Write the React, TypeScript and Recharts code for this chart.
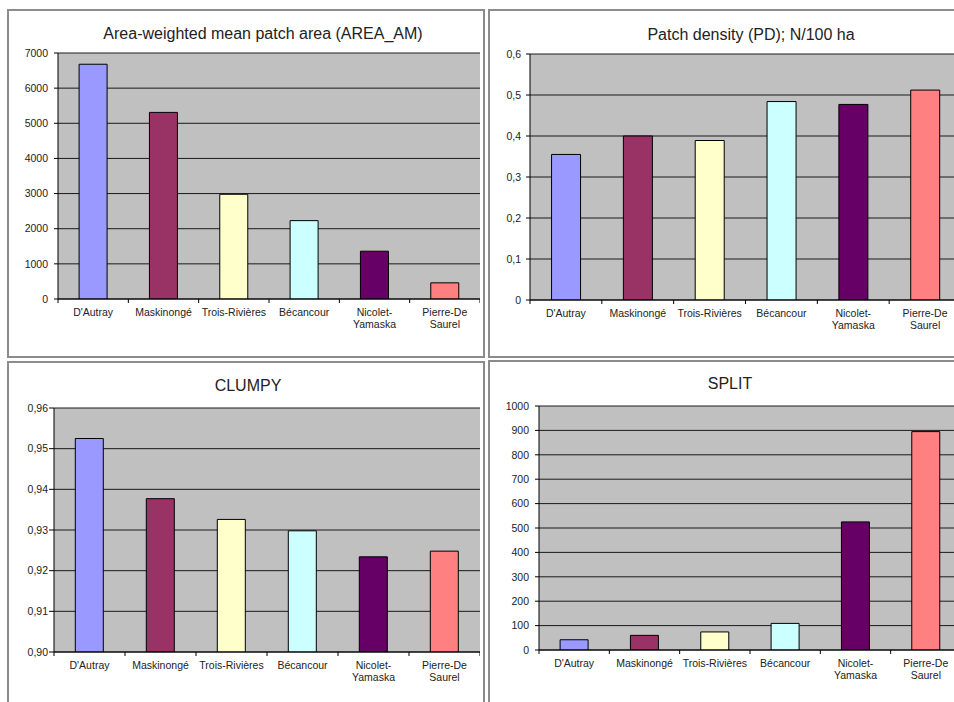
import React from 'react';
import { BarChart, Bar, XAxis, YAxis, CartesianGrid, Cell } from 'recharts';

// districts, in chart order
const categories = ["D'Autray", 'Maskinongé', 'Trois-Rivières', 'Bécancour', 'Nicolet-Yamaska', 'Pierre-De Saurel'];
const categoryLines = [["D'Autray"], ['Maskinongé'], ['Trois-Rivières'], ['Bécancour'], ['Nicolet-', 'Yamaska'], ['Pierre-De', 'Saurel']];
const barColors = ['#9999FF', '#993366', '#FFFFCC', '#CCFFFF', '#660066', '#FF8080'];

// metric values
const areaAm = [6680, 5310, 2980, 2230, 1360, 460];
const patchDensity = [0.355, 0.4, 0.389, 0.484, 0.477, 0.512];
const clumpy = [0.9525, 0.9377, 0.9326, 0.9298, 0.9234, 0.9248];
const split = [42, 60, 74, 109, 525, 895];

// y axis ticks
const areaTicks = [0, 1000, 2000, 3000, 4000, 5000, 6000, 7000];
const pdTicks = [0, 0.1, 0.2, 0.3, 0.4, 0.5, 0.6];
const clumpyTicks = [0.9, 0.91, 0.92, 0.93, 0.94, 0.95, 0.96];
const splitTicks = [0, 100, 200, 300, 400, 500, 600, 700, 800, 900, 1000];

const FONT = '"Liberation Sans", Arial, sans-serif';
const TEXT = '#222';

const comma = (digits: number) => (v: number) => (v === 0 ? '0' : v.toFixed(digits).replace('.', ','));

interface PanelProps {
  title: string;
  values: number[];
  ticks: number[];
  format?: (v: number) => string;
  plotLeft: number;
  plotTop: number;
  plotW: number;
  plotH: number;
  tickSize: number;
  tickMargin: number;
  titleX: number;
  titleY: number;
}

const Panel: React.FC<PanelProps> = ({ title, values, ticks, format, plotLeft, plotTop, plotW, plotH, tickSize, tickMargin, titleX, titleY }) => {
  const yw = 50;
  const data = categories.map((name, i) => ({ name, value: values[i] }));
  const half = plotW / categories.length / 2;

  const CategoryTick = (props: any) => {
    const { x, y, index } = props;
    const lines = categoryLines[index] || [props.payload.value];
    return (
      <g>
        <line x1={x - half} y1={y} x2={x - half} y2={y + 4} stroke="#000" />
        {index === categories.length - 1 && <line x1={x + half} y1={y} x2={x + half} y2={y + 4} stroke="#000" />}
        <text x={x} y={y + 17} textAnchor="middle" fontSize={10.5} fill={TEXT} fontFamily={FONT}>
          {lines.map((l: string, i: number) => (
            <tspan key={i} x={x} dy={i === 0 ? 0 : 12}>{l}</tspan>
          ))}
        </text>
      </g>
    );
  };

  return (
    <>
      <div style={{ position: 'absolute', left: titleX - 250, top: titleY, width: 500, textAlign: 'center', fontSize: 16, lineHeight: '18px', color: TEXT, fontFamily: FONT, whiteSpace: 'nowrap' }}>
        {title}
      </div>
      <div style={{ position: 'absolute', left: plotLeft - yw, top: plotTop - 10 }}>
        <BarChart
          width={yw + plotW}
          height={plotH + 50}
          data={data}
          margin={{ top: 10, right: 0, bottom: 0, left: 0 }}
          barCategoryGap="30%"
        >
          <CartesianGrid vertical={false} fill="#C0C0C0" stroke="#1a1a1a" strokeOpacity={1} />
          <XAxis
            dataKey="name"
            height={40}
            axisLine={{ stroke: '#000' }}
            tickLine={false}
            tickSize={0}
            tickMargin={0}
            interval={0}
            tick={<CategoryTick />}
          />
          <YAxis
            width={yw}
            type="number"
            domain={[ticks[0], ticks[ticks.length - 1]]}
            ticks={ticks}
            interval={0}
            allowDataOverflow
            axisLine={{ stroke: '#000' }}
            tickLine={{ stroke: '#000' }}
            tickSize={tickSize}
            tickMargin={tickMargin}
            tickFormatter={format}
            tick={{ fontSize: 10.5, fill: TEXT, fontFamily: FONT }}
          />
          <Bar dataKey="value" stroke="#000" strokeWidth={1} isAnimationActive={false}>
            {data.map((d, i) => (
              <Cell key={d.name} fill={barColors[i]} />
            ))}
          </Bar>
        </BarChart>
      </div>
    </>
  );
};

const frame = (left: number, top: number, width: number, height: number): React.CSSProperties => ({
  position: 'absolute',
  left,
  top,
  width,
  height,
  border: '2px solid #8c8c8c',
  boxSizing: 'border-box',
});

export default function App() {
  return (
    <div style={{ position: 'absolute', left: 0, top: 0, width: 954, height: 702, overflow: 'hidden', background: '#fff', fontFamily: FONT }}>
      <div style={frame(7, 9, 478, 349)} />
      <div style={frame(488, 9, 490, 349)} />
      <div style={frame(7, 361, 478, 400)} />
      <div style={frame(488, 360, 490, 400)} />

      <Panel title="Area-weighted mean patch area (AREA_AM)" values={areaAm} ticks={areaTicks}
        plotLeft={58} plotTop={53} plotW={422} plotH={246} tickSize={4} tickMargin={6} titleX={263} titleY={25} />
      <Panel title="Patch density (PD); N/100 ha" values={patchDensity} ticks={pdTicks} format={comma(1)}
        plotLeft={530} plotTop={54} plotW={431} plotH={246} tickSize={4} tickMargin={5} titleX={751} titleY={26} />
      <Panel title="CLUMPY" values={clumpy} ticks={clumpyTicks} format={comma(2)}
        plotLeft={54} plotTop={408} plotW={426} plotH={244} tickSize={5} tickMargin={1} titleX={248} titleY={377} />
      <Panel title="SPLIT" values={split} ticks={splitTicks}
        plotLeft={539} plotTop={406} plotW={422} plotH={244} tickSize={4} tickMargin={6} titleX={730} titleY={375} />
    </div>
  );
}
